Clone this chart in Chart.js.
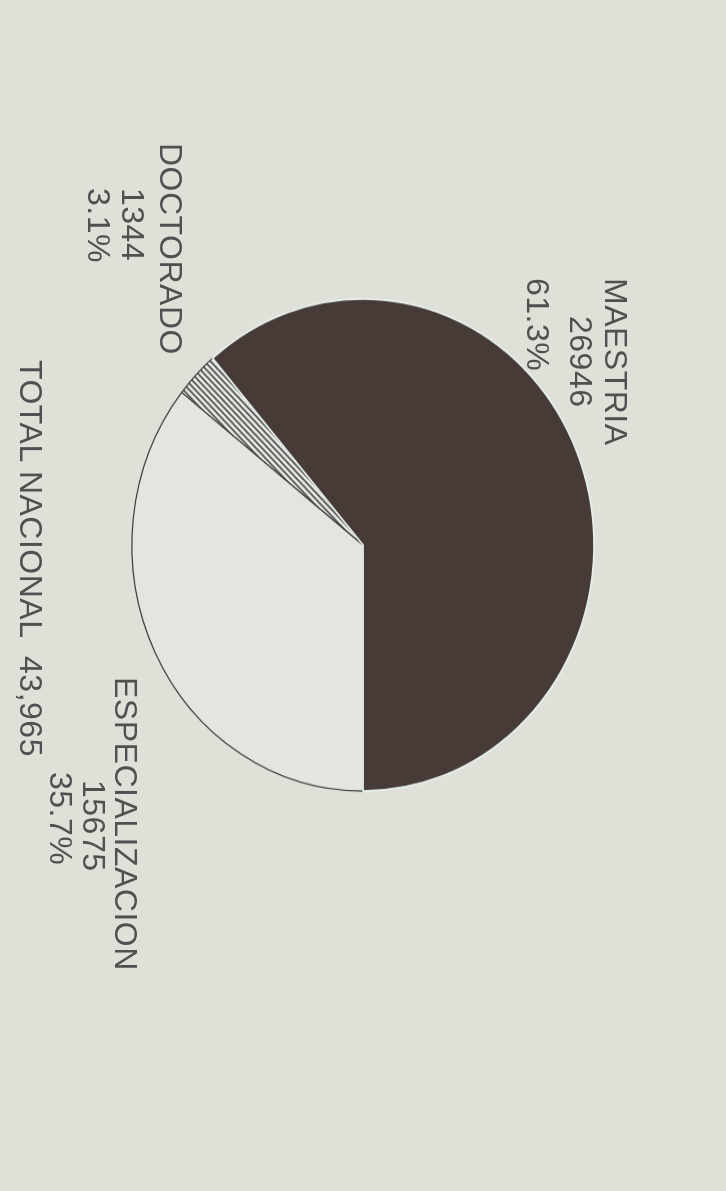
<!DOCTYPE html>
<html>
<head>
<meta charset="utf-8">
<script src="https://cdn.jsdelivr.net/npm/chart.js@4.4.1/dist/chart.umd.min.js"></script>
<style>
  html, body { margin: 0; padding: 0; background: #dfe0d8; width: 726px; height: 1191px; overflow: hidden; }
  #wrap { position: relative; width: 726px; height: 1191px; }
  #pie { position: absolute; left: 0; top: 0; transform-origin: 363px 545px; transform: scaleY(1.065); }
  .lbl { position: absolute; transform-origin: 0 0; transform: rotate(90deg); white-space: pre;
         font-family: "Liberation Sans", Arial, sans-serif; font-size: 32px; line-height: 1; color: #505050;
         letter-spacing: 0.5px; }
</style>
</head>
<body>
<div id="wrap">
  <canvas id="pie" width="726" height="1191"></canvas>
</div>
<script>
// ---- data ----
const categories = ['ESPECIALIZACION', 'DOCTORADO', 'MAESTRIA'];
const values = [15675, 1344, 26946];
const percentLabels = ['35.7%', '3.1%', '61.3%'];
const totalLabel = 'TOTAL NACIONAL  43,965';

// ---- hatch pattern for DOCTORADO ----
function hatch() {
  const s = 6;
  const c = document.createElement('canvas');
  c.width = s; c.height = s;
  const g = c.getContext('2d');
  g.fillStyle = '#e6e6e2';
  g.fillRect(0, 0, s, s);
  g.strokeStyle = '#555555';
  g.lineWidth = 1.6;
  g.beginPath();
  g.moveTo(-1, -1); g.lineTo(s + 1, s + 1);
  g.moveTo(-1, s - 1); g.lineTo(1, s + 1);
  g.moveTo(s - 1, -1); g.lineTo(s + 1, 1);
  g.stroke();
  return g.createPattern(c, 'repeat');
}

const cx = 363, cy = 545, R = 232;
const ctx = document.getElementById('pie').getContext('2d');
new Chart(ctx, {
  type: 'pie',
  data: {
    labels: categories,
    datasets: [{
      data: values,
      backgroundColor: ['#e4e5e0', hatch(), '#463b36'],
      borderColor: ['#3a3a3a', '#3a3a3a', '#e6eeec'],
      borderWidth: [1.2, 1.2, 1.8]
    }]
  },
  options: {
    responsive: false,
    devicePixelRatio: 1,
    animation: false,
    rotation: 180,
    layout: { padding: { left: cx - R, right: 726 - cx - R, top: cy - R, bottom: 1191 - cy - R } },
    plugins: { legend: { display: false }, tooltip: { enabled: false } }
  }
});

// ---- rotated labels (screen reads top-to-bottom) ----
const fs = 32;
const labelLines = [
  // [text, baseline x, start y]
  [categories[2], 605, 278],
  [String(values[2]), 570, 316],
  [percentLabels[2], 527, 278],
  [categories[1], 160, 143],
  [String(values[1]), 122, 188],
  [percentLabels[1], 88, 188],
  [categories[0], 115, 677],
  [String(values[0]), 83, 780],
  [percentLabels[0], 50, 772],
  [totalLabel, 20, 360]
];
const wrap = document.getElementById('wrap');
labelLines.forEach(([t, bx, y]) => {
  const d = document.createElement('div');
  d.className = 'lbl';
  d.textContent = t;
  d.style.left = (bx + 0.8465 * fs) + 'px';
  d.style.top = y + 'px';
  wrap.appendChild(d);
});
</script>
</body>
</html>
